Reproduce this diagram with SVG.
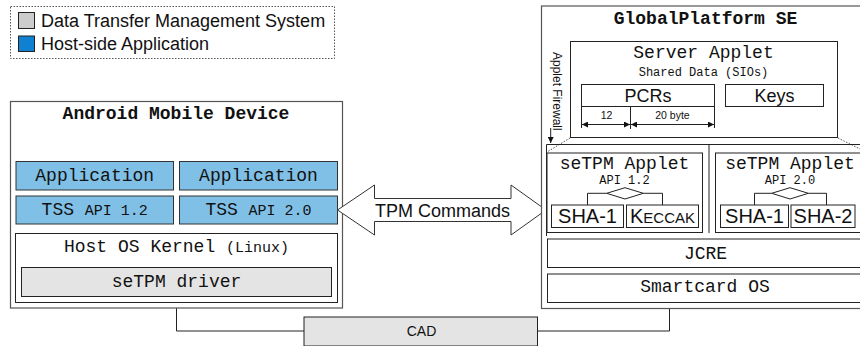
<svg xmlns="http://www.w3.org/2000/svg" width="860" height="346" viewBox="0 0 860 346">
<defs>
<style>
.box{fill:#fff;stroke:#222;stroke-width:1}
.outer{fill:#fff;stroke:#555;stroke-width:1.2}
.app{fill:#80c0e6;stroke:#333;stroke-width:1}
.gray{fill:#e4e4e4;stroke:#222;stroke-width:1}
.mono{font-family:"Liberation Mono","DejaVu Sans Mono",monospace;fill:#111}
.sans{font-family:"Liberation Sans",Arial,sans-serif;fill:#111}
.ln{fill:none;stroke:#222;stroke-width:1}
.dot{fill:none;stroke:#555;stroke-width:1;stroke-dasharray:1.5 1.5}
</style>
<marker id="ah" viewBox="0 0 10 10" refX="10" refY="5" markerWidth="8" markerHeight="6" orient="auto-start-reverse" markerUnits="userSpaceOnUse">
<path d="M0,0 L10,5 L0,10 z" fill="#111"/>
</marker>
</defs>
<rect width="860" height="346" fill="#fff"/>

<g id="legend">
<rect x="10.5" y="6.5" width="324" height="52" fill="#fff" stroke="#555" stroke-dasharray="1.5 1.5"/>
<rect x="18.5" y="12.5" width="16" height="16" fill="#cccccc" stroke="#222"/>
<text x="41" y="26.5" class="sans" font-size="18">Data Transfer Management System</text>
<rect x="18.5" y="36" width="16" height="15.5" fill="#1080d0" stroke="#222"/>
<text x="41" y="50" class="sans" font-size="18">Host-side Application</text>
</g>

<g id="connectors">
<polyline class="ln" points="176.5,297 176.5,331 304,331"/>
<polyline class="ln" points="537.5,331 669.5,331 669.5,308"/>
</g>

<g id="android">
<rect class="outer" x="10.5" y="101.5" width="332" height="206.5"/>
<text x="176" y="118.5" class="mono" font-size="18" font-weight="bold" text-anchor="middle">Android Mobile Device</text>
</g>
<g id="app1">
<rect class="app" x="16" y="161.5" width="157.5" height="28.5"/>
<text x="94.7" y="181" class="mono" font-size="18" text-anchor="middle">Application</text>
</g>
<g id="app2">
<rect class="app" x="179.5" y="161.5" width="158" height="28.5"/>
<text x="258.5" y="181" class="mono" font-size="18" text-anchor="middle">Application</text>
</g>
<g id="tss12">
<rect class="app" x="16" y="196" width="157.5" height="28"/>
<text x="94.7" y="215" class="mono" font-size="18" text-anchor="middle">TSS <tspan font-size="15">API 1.2</tspan></text>
</g>
<g id="tss20">
<rect class="app" x="179.5" y="196" width="158" height="28"/>
<text x="258.5" y="215" class="mono" font-size="18" text-anchor="middle">TSS <tspan font-size="15">API 2.0</tspan></text>
</g>
<g id="kernel">
<rect class="box" x="15.5" y="233.5" width="322" height="69"/>
<text x="176.5" y="252" class="mono" font-size="18" text-anchor="middle">Host OS Kernel <tspan font-size="15">(Linux)</tspan></text>
</g>
<g id="driver">
<rect class="gray" x="21.5" y="267.5" width="310" height="29"/>
<text x="176.5" y="287" class="mono" font-size="18" text-anchor="middle">seTPM driver</text>
</g>

<g id="tpm-commands">
<path d="M337.5,210 L374.5,185 L374.5,198.5 L511,198.5 L511,185 L546,210 L511,235 L511,221.5 L374.5,221.5 L374.5,235 Z" fill="#fff" stroke="#333" stroke-width="1"/>
<text x="442.5" y="217" class="sans" font-size="18" text-anchor="middle">TPM Commands</text>
</g>

<g id="cad">
<rect class="gray" x="304" y="317" width="233.5" height="29"/>
<text x="421.5" y="336" class="sans" font-size="14" text-anchor="middle">CAD</text>
</g>

<g id="se">
<rect class="outer" x="541.5" y="6" width="330" height="302.5"/>
<text x="705.5" y="24" class="mono" font-size="18" font-weight="bold" text-anchor="middle">GlobalPlatform SE</text>
<text transform="translate(553,52) rotate(90)" class="sans" font-size="12">Applet Firewall</text>
<line class="ln" x1="550.7" y1="128" x2="550.7" y2="143" marker-end="url(#ah)"/>
<line class="dot" x1="570" y1="138" x2="547" y2="152"/>
<line class="dot" x1="838" y1="138" x2="862" y2="150"/>
<polyline class="ln" points="546.5,236 546.5,144.5 870,144.5"/>
<line class="ln" x1="709" y1="144.5" x2="709" y2="233"/>
</g>

<g id="server-applet">
<rect class="box" x="570.5" y="41.5" width="267" height="96"/>
<text x="703.5" y="58" class="mono" font-size="18" text-anchor="middle">Server Applet</text>
<text x="703.5" y="75.5" class="mono" font-size="12" text-anchor="middle">Shared Data (SIOs)</text>
<rect class="box" x="581.5" y="84.5" width="133" height="22"/>
<text x="648" y="102" class="sans" font-size="18" text-anchor="middle">PCRs</text>
<rect class="box" x="725.5" y="84.5" width="98" height="22"/>
<text x="774.5" y="102" class="sans" font-size="18" text-anchor="middle">Keys</text>
<line class="ln" x1="581.5" y1="106.5" x2="581.5" y2="128"/>
<line class="ln" x1="630.5" y1="106.5" x2="630.5" y2="129"/>
<line class="ln" x1="714.5" y1="106.5" x2="714.5" y2="128"/>
<line class="ln" x1="582" y1="124.5" x2="630" y2="124.5" marker-start="url(#ah)" marker-end="url(#ah)"/>
<line class="ln" x1="631" y1="124.5" x2="714" y2="124.5" marker-start="url(#ah)" marker-end="url(#ah)"/>
<text x="606.5" y="119" class="sans" font-size="10.5" text-anchor="middle">12</text>
<text x="672.5" y="119" class="sans" font-size="10.5" text-anchor="middle">20 byte</text>
</g>

<g id="setpm12">
<rect class="box" x="547" y="153" width="155.5" height="79.5"/>
<text x="624.5" y="169" class="mono" font-size="18" text-anchor="middle">seTPM Applet</text>
<text x="624.5" y="184" class="mono" font-size="12" text-anchor="middle">API 1.2</text>
<path class="ln" d="M606.7,193.3 L625,187.7 L643.3,193.3 L625,199 Z M606.7,193.3 H587.5 V205 M643.3,193.3 H662.5 V205"/>
<rect class="box" x="551.5" y="205" width="72" height="22.5"/>
<text x="587.5" y="223" class="sans" font-size="20" text-anchor="middle">SHA-1</text>
<rect class="box" x="626.5" y="205" width="72" height="22.5"/>
<text x="662.5" y="223" class="sans" font-size="20" text-anchor="middle">K<tspan font-size="15">ECCAK</tspan></text>
</g>

<g id="setpm20">
<rect class="box" x="715.5" y="153" width="160" height="79.5"/>
<text x="790" y="169" class="mono" font-size="18" text-anchor="middle">seTPM Applet</text>
<text x="790" y="184" class="mono" font-size="12" text-anchor="middle">API 2.0</text>
<path class="ln" d="M771.7,193.3 L790,187.7 L808.3,193.3 L790,199 Z M771.7,193.3 H754.5 V205 M808.3,193.3 H826.5 V205"/>
<rect class="box" x="720.5" y="205" width="68" height="22.5"/>
<text x="754.5" y="223" class="sans" font-size="20" text-anchor="middle">SHA-1</text>
<rect class="box" x="791" y="205" width="64" height="22.5"/>
<text x="823" y="223" class="sans" font-size="20" text-anchor="middle">SHA-2</text>
</g>

<g id="jcre">
<rect class="box" x="547.5" y="239" width="320" height="28.5"/>
<text x="705.5" y="258.5" class="mono" font-size="18" text-anchor="middle">JCRE</text>
</g>
<g id="smartcard-os">
<rect class="box" x="547.5" y="274" width="320" height="28.5"/>
<text x="705" y="292" class="mono" font-size="18" text-anchor="middle">Smartcard OS</text>
</g>
</svg>
